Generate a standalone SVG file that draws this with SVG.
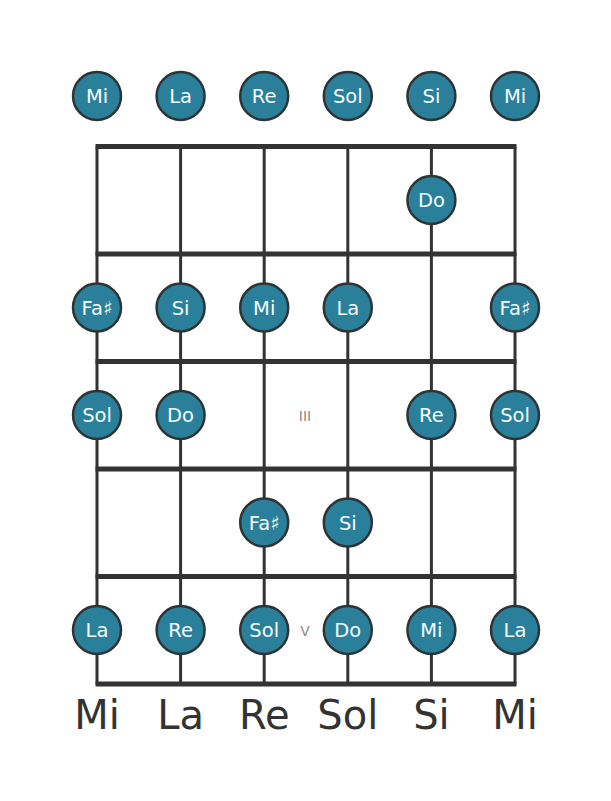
<svg xmlns="http://www.w3.org/2000/svg" width="611" height="801" viewBox="0 0 611 801">
<style>
.bg{fill:#ffffff}
.str{stroke:#333333;stroke-width:3;fill:none}
.fret{stroke:#333333;stroke-width:5;fill:none}
.dot{fill:#2a809b;stroke:#2d3436;stroke-width:2.5}
.nt{font-family:"DejaVu Sans",sans-serif;font-size:19.5px;fill:#f4fbfd;text-anchor:middle}
.lbl{font-family:"DejaVu Sans",sans-serif;font-size:40px;fill:#333333;text-anchor:middle}
.pos{font-family:"DejaVu Sans",sans-serif;font-size:14px;fill:#8a8a8a;text-anchor:middle}
</style>
<rect class="bg" x="0" y="0" width="611" height="801"/>
<g id="connectors">
<line class="str" x1="97" y1="146.5" x2="97" y2="684"/>
<line class="str" x1="180.6" y1="146.5" x2="180.6" y2="684"/>
<line class="str" x1="264.2" y1="146.5" x2="264.2" y2="684"/>
<line class="str" x1="347.8" y1="146.5" x2="347.8" y2="684"/>
<line class="str" x1="431.4" y1="146.5" x2="431.4" y2="684"/>
<line class="str" x1="515" y1="146.5" x2="515" y2="684"/>
<line class="fret" x1="95.5" y1="146.5" x2="516.5" y2="146.5"/>
<line class="fret" x1="95.5" y1="254" x2="516.5" y2="254"/>
<line class="fret" x1="95.5" y1="361.5" x2="516.5" y2="361.5"/>
<line class="fret" x1="95.5" y1="469" x2="516.5" y2="469"/>
<line class="fret" x1="95.5" y1="576.5" x2="516.5" y2="576.5"/>
<line class="fret" x1="95.5" y1="684" x2="516.5" y2="684"/>
</g>
<g id="positions">
<text class="pos" x="305" y="421">III</text>
<text class="pos" x="305" y="636">V</text>
</g>
<g id="open-1"><circle class="dot" cx="97" cy="96" r="24"/><text class="nt" x="97" y="103">Mi</text></g>
<g id="open-2"><circle class="dot" cx="180.6" cy="96" r="24"/><text class="nt" x="180.6" y="103">La</text></g>
<g id="open-3"><circle class="dot" cx="264.2" cy="96" r="24"/><text class="nt" x="264.2" y="103">Re</text></g>
<g id="open-4"><circle class="dot" cx="347.8" cy="96" r="24"/><text class="nt" x="347.8" y="103">Sol</text></g>
<g id="open-5"><circle class="dot" cx="431.4" cy="96" r="24"/><text class="nt" x="431.4" y="103">Si</text></g>
<g id="open-6"><circle class="dot" cx="515" cy="96" r="24"/><text class="nt" x="515" y="103">Mi</text></g>

<g id="f1-s5"><circle class="dot" cx="431.4" cy="200" r="24"/><text class="nt" x="431.4" y="207">Do</text></g>

<g id="f2-s1"><circle class="dot" cx="97" cy="307.5" r="24"/><text class="nt" x="97" y="314.5">Fa♯</text></g>
<g id="f2-s2"><circle class="dot" cx="180.6" cy="307.5" r="24"/><text class="nt" x="180.6" y="314.5">Si</text></g>
<g id="f2-s3"><circle class="dot" cx="264.2" cy="307.5" r="24"/><text class="nt" x="264.2" y="314.5">Mi</text></g>
<g id="f2-s4"><circle class="dot" cx="347.8" cy="307.5" r="24"/><text class="nt" x="347.8" y="314.5">La</text></g>
<g id="f2-s6"><circle class="dot" cx="515" cy="307.5" r="24"/><text class="nt" x="515" y="314.5">Fa♯</text></g>

<g id="f3-s1"><circle class="dot" cx="97" cy="415" r="24"/><text class="nt" x="97" y="422">Sol</text></g>
<g id="f3-s2"><circle class="dot" cx="180.6" cy="415" r="24"/><text class="nt" x="180.6" y="422">Do</text></g>
<g id="f3-s5"><circle class="dot" cx="431.4" cy="415" r="24"/><text class="nt" x="431.4" y="422">Re</text></g>
<g id="f3-s6"><circle class="dot" cx="515" cy="415" r="24"/><text class="nt" x="515" y="422">Sol</text></g>

<g id="f4-s3"><circle class="dot" cx="264.2" cy="522.5" r="24"/><text class="nt" x="264.2" y="529.5">Fa♯</text></g>
<g id="f4-s4"><circle class="dot" cx="347.8" cy="522.5" r="24"/><text class="nt" x="347.8" y="529.5">Si</text></g>

<g id="f5-s1"><circle class="dot" cx="97" cy="630" r="24"/><text class="nt" x="97" y="637">La</text></g>
<g id="f5-s2"><circle class="dot" cx="180.6" cy="630" r="24"/><text class="nt" x="180.6" y="637">Re</text></g>
<g id="f5-s3"><circle class="dot" cx="264.2" cy="630" r="24"/><text class="nt" x="264.2" y="637">Sol</text></g>
<g id="f5-s4"><circle class="dot" cx="347.8" cy="630" r="24"/><text class="nt" x="347.8" y="637">Do</text></g>
<g id="f5-s5"><circle class="dot" cx="431.4" cy="630" r="24"/><text class="nt" x="431.4" y="637">Mi</text></g>
<g id="f5-s6"><circle class="dot" cx="515" cy="630" r="24"/><text class="nt" x="515" y="637">La</text></g>

<g id="labels">
<text class="lbl" x="97" y="729">Mi</text>
<text class="lbl" x="180.6" y="729">La</text>
<text class="lbl" x="264.2" y="729">Re</text>
<text class="lbl" x="347.8" y="729">Sol</text>
<text class="lbl" x="431.4" y="729">Si</text>
<text class="lbl" x="515" y="729">Mi</text>
</g>
</svg>
